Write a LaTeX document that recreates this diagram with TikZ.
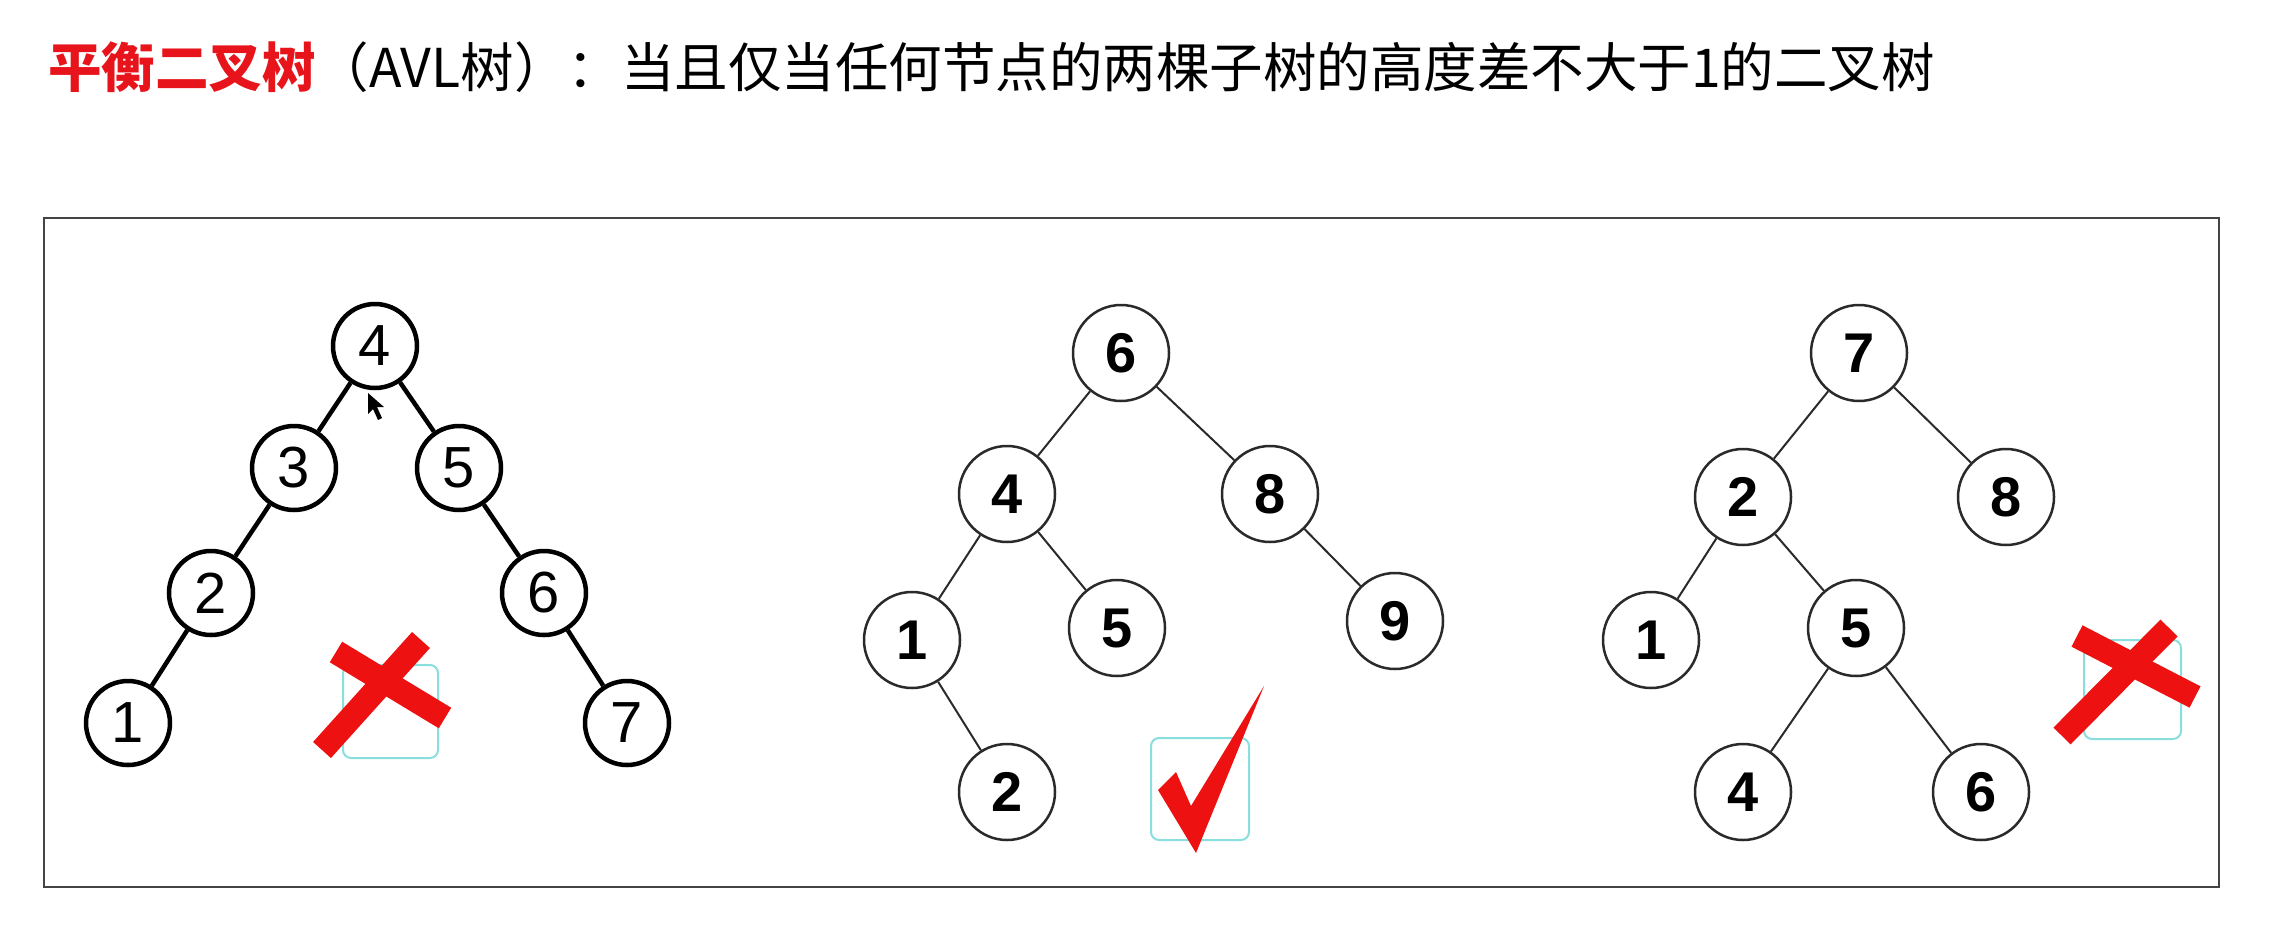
\documentclass[tikz,border=0pt]{standalone}
\usepackage{fontspec}
\newfontfamily\cjk{Noto Sans CJK SC}
\newfontfamily\arialf{Liberation Sans}
\definecolor{titlered}{HTML}{E8141B}
\definecolor{xred}{HTML}{EE1111}
\definecolor{boxcyan}{HTML}{8ADEDE}
\definecolor{framegray}{HTML}{444444}
\definecolor{linegray}{HTML}{2A2A2A}
\begin{document}
\begin{tikzpicture}[x=1pt,y=-1pt,
  thicknode/.style={circle,draw=black,line width=4.5pt,minimum size=84pt,inner sep=0pt,
    font=\arialf\fontsize{58}{58}\selectfont},
  thinnode/.style={circle,draw=linegray,line width=2.5pt,minimum size=96pt,inner sep=0pt,
    font=\arialf\bfseries\fontsize{56}{56}\selectfont},
  thickedge/.style={draw=black,line width=4.5pt},
  thinedge/.style={draw=linegray,line width=2pt},
  markbox/.style={draw=boxcyan,line width=2pt,rounded corners=8pt},
  xstroke/.style={draw=xred,line width=24pt}
]
\useasboundingbox (0,0) rectangle (2280,924);
\fill[white] (0,0) rectangle (2280,924);

% title
\node[anchor=west,inner sep=0pt] (title) at (48,67)
  {\cjk\fontsize{53.5}{53.5}\selectfont\textcolor{titlered}{\bfseries 平衡二叉树}（AVL树）：当且仅当任何节点的两棵子树的高度差不大于1的二叉树};

% frame
\draw[framegray,line width=2pt] (44,218) rectangle (2219,887);

% ---------- tree 1 ----------
\node[thicknode] (a4) at (375,346) {4};
\node[thicknode] (a3) at (294,468) {3};
\node[thicknode] (a5) at (459,468) {5};
\node[thicknode] (a2) at (211,593) {2};
\node[thicknode] (a6) at (544,593) {6};
\node[thicknode] (a1) at (128,723) {1};
\node[thicknode] (a7) at (627,723) {7};
\draw[thickedge] (a4) -- (a3);
\draw[thickedge] (a4) -- (a5);
\draw[thickedge] (a3) -- (a2);
\draw[thickedge] (a2) -- (a1);
\draw[thickedge] (a5) -- (a6);
\draw[thickedge] (a6) -- (a7);
% cursor
\fill[black] (368,393) -- (368,414) -- (373,409) -- (378,420) -- (382,418) -- (377,407) -- (384,407) -- cycle;
% cross mark 1
\draw[markbox] (343,665) rectangle (438,758);
\draw[xstroke] (336,652) -- (445,718);
\draw[xstroke] (421,640) -- (322,750);

% ---------- tree 2 ----------
\node[thinnode] (b6) at (1121,353) {6};
\node[thinnode] (b4) at (1007,494) {4};
\node[thinnode] (b8) at (1270,494) {8};
\node[thinnode] (b1) at (912,640) {1};
\node[thinnode] (b5) at (1117,628) {5};
\node[thinnode] (b9) at (1395,621) {9};
\node[thinnode] (b2) at (1007,792) {2};
\draw[thinedge] (b6) -- (b4);
\draw[thinedge] (b6) -- (b8);
\draw[thinedge] (b4) -- (b1);
\draw[thinedge] (b4) -- (b5);
\draw[thinedge] (b8) -- (b9);
\draw[thinedge] (b1) -- (b2);
% check mark
\draw[markbox] (1151,738) rectangle (1249,840);
\fill[xred] (1158,790) -- (1176,772) -- (1191,806) -- (1264,686) -- (1196,853) -- cycle;

% ---------- tree 3 ----------
\node[thinnode] (c7) at (1859,353) {7};
\node[thinnode] (c2) at (1743,497) {2};
\node[thinnode] (c8) at (2006,497) {8};
\node[thinnode] (c1) at (1651,640) {1};
\node[thinnode] (c5) at (1856,628) {5};
\node[thinnode] (c4) at (1743,792) {4};
\node[thinnode] (c6) at (1981,792) {6};
\draw[thinedge] (c7) -- (c2);
\draw[thinedge] (c7) -- (c8);
\draw[thinedge] (c2) -- (c1);
\draw[thinedge] (c2) -- (c5);
\draw[thinedge] (c5) -- (c4);
\draw[thinedge] (c5) -- (c6);
% cross mark 3
\draw[markbox] (2084,640) rectangle (2181,739);
\draw[xstroke] (2077,636) -- (2195,697);
\draw[xstroke] (2169,628) -- (2062,736);
\end{tikzpicture}
\end{document}
